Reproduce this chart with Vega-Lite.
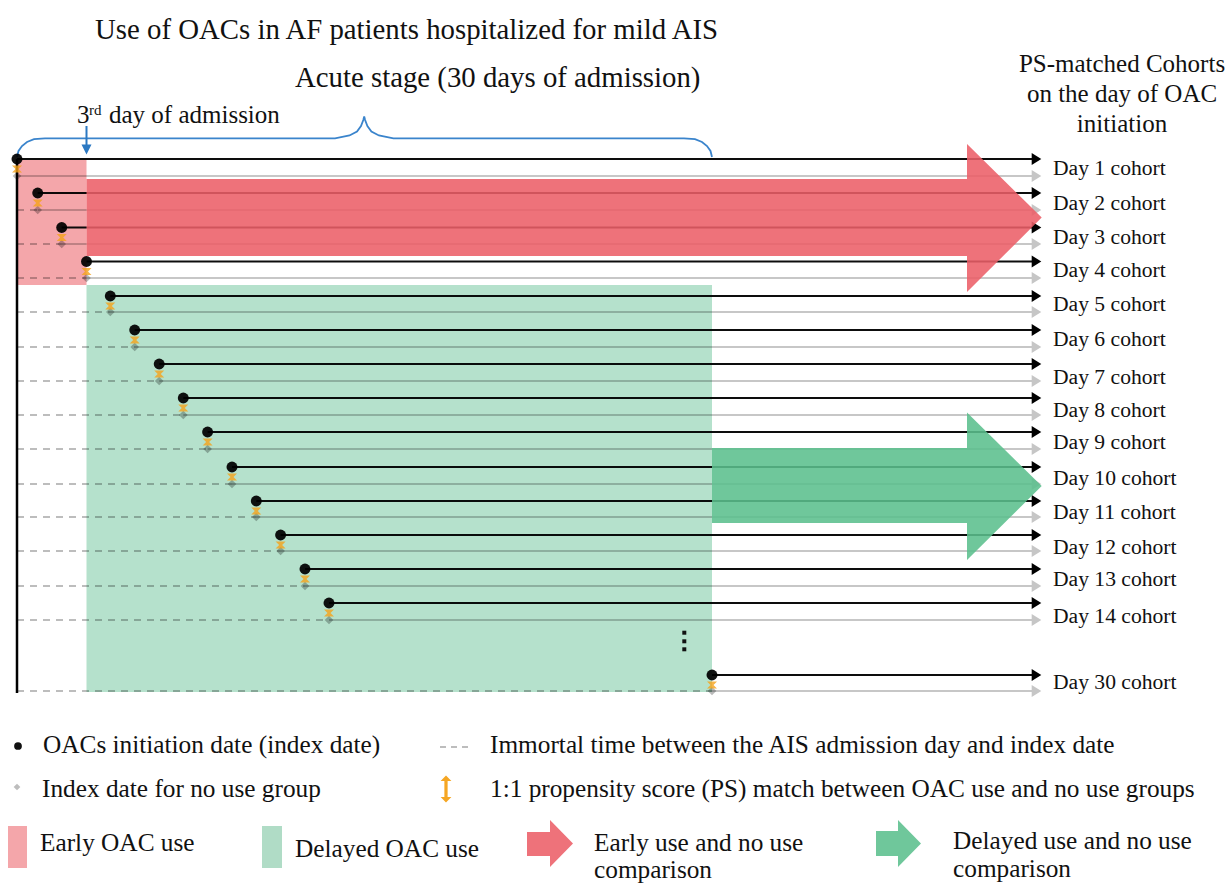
{
  "$schema": "https://vega.github.io/schema/vega-lite/v6.json",
  "width": 1229,
  "height": 883,
  "autosize": {"type": "none"},
  "padding": 0,
  "background": "white",
  "config": {"view": {"stroke": null}},
  "datasets": {
    "cohorts": [
      {"cohort": "Day 1 cohort", "origin": 17, "start": 17, "end": 1032, "head": 1036.5, "label_x": 1053, "use_y": 159, "nouse_y": 176, "label_y": 169},
      {"cohort": "Day 2 cohort", "origin": 17, "start": 37.7, "end": 1032, "head": 1036.5, "label_x": 1053, "use_y": 193, "nouse_y": 210, "label_y": 204},
      {"cohort": "Day 3 cohort", "origin": 17, "start": 61.7, "end": 1032, "head": 1036.5, "label_x": 1053, "use_y": 227.5, "nouse_y": 244, "label_y": 238},
      {"cohort": "Day 4 cohort", "origin": 17, "start": 86.5, "end": 1032, "head": 1036.5, "label_x": 1053, "use_y": 261.5, "nouse_y": 278, "label_y": 271},
      {"cohort": "Day 5 cohort", "origin": 17, "start": 110.3, "end": 1032, "head": 1036.5, "label_x": 1053, "use_y": 296, "nouse_y": 312, "label_y": 305},
      {"cohort": "Day 6 cohort", "origin": 17, "start": 134.7, "end": 1032, "head": 1036.5, "label_x": 1053, "use_y": 330, "nouse_y": 347, "label_y": 340},
      {"cohort": "Day 7 cohort", "origin": 17, "start": 159.2, "end": 1032, "head": 1036.5, "label_x": 1053, "use_y": 364, "nouse_y": 381, "label_y": 378},
      {"cohort": "Day 8 cohort", "origin": 17, "start": 183.3, "end": 1032, "head": 1036.5, "label_x": 1053, "use_y": 398, "nouse_y": 415, "label_y": 411},
      {"cohort": "Day 9 cohort", "origin": 17, "start": 207.6, "end": 1032, "head": 1036.5, "label_x": 1053, "use_y": 432, "nouse_y": 449, "label_y": 443},
      {"cohort": "Day 10 cohort", "origin": 17, "start": 232, "end": 1032, "head": 1036.5, "label_x": 1053, "use_y": 467, "nouse_y": 484, "label_y": 479},
      {"cohort": "Day 11 cohort", "origin": 17, "start": 256.3, "end": 1032, "head": 1036.5, "label_x": 1053, "use_y": 501, "nouse_y": 517, "label_y": 513},
      {"cohort": "Day 12 cohort", "origin": 17, "start": 280.6, "end": 1032, "head": 1036.5, "label_x": 1053, "use_y": 535, "nouse_y": 551, "label_y": 548},
      {"cohort": "Day 13 cohort", "origin": 17, "start": 305, "end": 1032, "head": 1036.5, "label_x": 1053, "use_y": 569, "nouse_y": 586, "label_y": 580},
      {"cohort": "Day 14 cohort", "origin": 17, "start": 329, "end": 1032, "head": 1036.5, "label_x": 1053, "use_y": 603, "nouse_y": 620, "label_y": 617},
      {"cohort": "Day 30 cohort", "origin": 17, "start": 712, "end": 1032, "head": 1036.5, "label_x": 1053, "use_y": 675, "nouse_y": 691, "label_y": 683}
    ],
    "brace": [
      {"x": 17, "y": 157}, {"x": 18.5, "y": 151}, {"x": 22, "y": 146}, {"x": 27, "y": 142},
      {"x": 34, "y": 139.2}, {"x": 45, "y": 138.3}, {"x": 335, "y": 138.3}, {"x": 349.5, "y": 135.5},
      {"x": 357, "y": 131.5}, {"x": 361, "y": 126}, {"x": 363.3, "y": 120}, {"x": 364.2, "y": 116.5},
      {"x": 365.1, "y": 120}, {"x": 367.4, "y": 126}, {"x": 371.4, "y": 131.5}, {"x": 378.9, "y": 135.5},
      {"x": 393.4, "y": 138.3}, {"x": 684, "y": 138.3}, {"x": 695, "y": 139.2}, {"x": 702, "y": 142},
      {"x": 707, "y": 146}, {"x": 710.5, "y": 151}, {"x": 712, "y": 157}
    ],
    "arrows": [
      {"arrow": "early", "x": 86.5, "y": 179, "y2": 256},
      {"arrow": "early", "x": 967, "y": 179, "y2": 256},
      {"arrow": "early", "x": 967.01, "y": 144, "y2": 292},
      {"arrow": "early", "x": 1041.7, "y": 217.5, "y2": 217.5},
      {"arrow": "delayed", "x": 712, "y": 448, "y2": 523},
      {"arrow": "delayed", "x": 967, "y": 448, "y2": 523},
      {"arrow": "delayed", "x": 967.01, "y": 412.5, "y2": 560},
      {"arrow": "delayed", "x": 1041.7, "y": 486, "y2": 486},
      {"arrow": "legend_early", "x": 527, "y": 832, "y2": 856},
      {"arrow": "legend_early", "x": 550, "y": 832, "y2": 856},
      {"arrow": "legend_early", "x": 550.01, "y": 820, "y2": 867},
      {"arrow": "legend_early", "x": 573, "y": 843.5, "y2": 843.5},
      {"arrow": "legend_delayed", "x": 876, "y": 831, "y2": 856},
      {"arrow": "legend_delayed", "x": 898, "y": 831, "y2": 856},
      {"arrow": "legend_delayed", "x": 898.01, "y": 820, "y2": 867},
      {"arrow": "legend_delayed", "x": 921, "y": 843.5, "y2": 843.5}
    ],
    "regions": [
      {"region": "early", "x": 17, "x2": 86.5, "y": 160, "y2": 285},
      {"region": "delayed", "x": 86.5, "x2": 712, "y": 285, "y2": 692},
      {"region": "legend_early", "x": 8, "x2": 27, "y": 826, "y2": 868},
      {"region": "legend_delayed", "x": 262, "x2": 282, "y": 826, "y2": 868}
    ],
    "texts": [
      {"kind": "title", "x": 95, "y": 30, "text": "Use of OACs in AF patients hospitalized for mild AIS"},
      {"kind": "title", "x": 295, "y": 78, "text": "Acute stage (30 days of admission)"},
      {"kind": "header", "x": 1122, "y": 64, "text": "PS-matched Cohorts"},
      {"kind": "header", "x": 1122, "y": 94, "text": "on the day of OAC"},
      {"kind": "header", "x": 1122, "y": 124, "text": "initiation"},
      {"kind": "note", "x": 77, "y": 115, "text": "3"},
      {"kind": "note", "x": 109, "y": 115, "text": "day of admission"},
      {"kind": "sup", "x": 89, "y": 110, "text": "rd"},
      {"kind": "legend", "x": 43, "y": 745, "text": "OACs initiation date (index date)"},
      {"kind": "legend", "x": 490, "y": 745, "text": "Immortal time between the AIS admission day and index date"},
      {"kind": "legend", "x": 42, "y": 789, "text": "Index date for no use group"},
      {"kind": "legend", "x": 490, "y": 789, "text": "1:1 propensity score (PS) match between OAC use and no use groups"},
      {"kind": "legend", "x": 40, "y": 843, "text": "Early OAC use"},
      {"kind": "legend", "x": 295, "y": 849, "text": "Delayed OAC use"},
      {"kind": "legend", "x": 594, "y": 843, "text": "Early use and no use"},
      {"kind": "legend", "x": 594, "y": 870, "text": "comparison"},
      {"kind": "legend", "x": 953, "y": 841, "text": "Delayed use and no use"},
      {"kind": "legend", "x": 953, "y": 869, "text": "comparison"}
    ],
    "ellipsis": [
      {"x": 684.3, "y": 632.7}, {"x": 684.3, "y": 641.3}, {"x": 684.3, "y": 649.3}
    ],
    "timeline": [
      {"x": 17, "y": 159, "y2": 693}
    ],
    "pointer": [
      {"x": 86.5, "y": 126, "y2": 146}
    ],
    "pointer_head": [
      {"x": 86.5, "y": 149.5}
    ],
    "legend_symbols": [
      {"symbol": "dot", "x": 18, "y": 746},
      {"symbol": "diamond", "x": 17, "y": 787},
      {"symbol": "match", "x": 446, "y": 789}
    ],
    "legend_dash": [
      {"x": 440, "x2": 472, "y": 747}
    ]
  },
  "layer": [
    {
      "data": {"name": "regions"},
      "transform": [{"filter": "datum.region === 'early'"}],
      "mark": {"type": "rect", "color": "#ec6b71", "opacity": 0.6},
      "encoding": {
        "x": {"field": "x", "type": "quantitative", "scale": {"domain": [0, 1229], "nice": false, "zero": false}, "axis": null},
        "x2": {"field": "x2"},
        "y": {"field": "y", "type": "quantitative", "scale": {"domain": [0, 883], "nice": false, "zero": false, "reverse": true}, "axis": null},
        "y2": {"field": "y2"}
      }
    },
    {
      "data": {"name": "regions"},
      "transform": [{"filter": "datum.region === 'delayed'"}],
      "mark": {"type": "rect", "color": "#6cc49a", "opacity": 0.5},
      "encoding": {
        "x": {"field": "x", "type": "quantitative", "scale": {"domain": [0, 1229], "nice": false, "zero": false}, "axis": null},
        "x2": {"field": "x2"},
        "y": {"field": "y", "type": "quantitative", "scale": {"domain": [0, 883], "nice": false, "zero": false, "reverse": true}, "axis": null},
        "y2": {"field": "y2"}
      }
    },
    {
      "data": {"name": "brace"},
      "mark": {"type": "line", "color": "#3a84cc", "strokeWidth": 1.8, "interpolate": "linear"},
      "encoding": {
        "x": {"field": "x", "type": "quantitative", "scale": {"domain": [0, 1229], "nice": false, "zero": false}, "axis": null},
        "y": {"field": "y", "type": "quantitative", "scale": {"domain": [0, 883], "nice": false, "zero": false, "reverse": true}, "axis": null}
      }
    },
    {
      "data": {"name": "pointer"},
      "mark": {"type": "rule", "color": "#2b78c2", "strokeWidth": 2},
      "encoding": {
        "x": {"field": "x", "type": "quantitative", "scale": {"domain": [0, 1229], "nice": false, "zero": false}, "axis": null},
        "y": {"field": "y", "type": "quantitative", "scale": {"domain": [0, 883], "nice": false, "zero": false, "reverse": true}, "axis": null},
        "y2": {"field": "y2"}
      }
    },
    {
      "data": {"name": "pointer_head"},
      "mark": {"type": "point", "shape": "M-1,-1L1,-1L0,1Z", "filled": true, "color": "#2b78c2", "size": 100, "opacity": 1},
      "encoding": {
        "x": {"field": "x", "type": "quantitative", "scale": {"domain": [0, 1229], "nice": false, "zero": false}, "axis": null},
        "y": {"field": "y", "type": "quantitative", "scale": {"domain": [0, 883], "nice": false, "zero": false, "reverse": true}, "axis": null}
      }
    },
    {
      "data": {"name": "timeline"},
      "mark": {"type": "rule", "color": "#000000", "strokeWidth": 2.5},
      "encoding": {
        "x": {"field": "x", "type": "quantitative", "scale": {"domain": [0, 1229], "nice": false, "zero": false}, "axis": null},
        "y": {"field": "y", "type": "quantitative", "scale": {"domain": [0, 883], "nice": false, "zero": false, "reverse": true}, "axis": null},
        "y2": {"field": "y2"}
      }
    },
    {
      "data": {"name": "cohorts"},
      "mark": {"type": "rule", "color": "#000000", "strokeOpacity": 0.26, "strokeWidth": 1.8, "strokeDash": [7, 6]},
      "encoding": {
        "x": {"field": "origin", "type": "quantitative", "scale": {"domain": [0, 1229], "nice": false, "zero": false}, "axis": null},
        "x2": {"field": "start"},
        "y": {"field": "nouse_y", "type": "quantitative", "scale": {"domain": [0, 883], "nice": false, "zero": false, "reverse": true}, "axis": null}
      }
    },
    {
      "data": {"name": "cohorts"},
      "mark": {"type": "rule", "color": "#000000", "strokeOpacity": 0.22, "strokeWidth": 2},
      "encoding": {
        "x": {"field": "start", "type": "quantitative", "scale": {"domain": [0, 1229], "nice": false, "zero": false}, "axis": null},
        "x2": {"field": "end"},
        "y": {"field": "nouse_y", "type": "quantitative", "scale": {"domain": [0, 883], "nice": false, "zero": false, "reverse": true}, "axis": null}
      }
    },
    {
      "data": {"name": "cohorts"},
      "mark": {"type": "rule", "color": "#000000", "strokeOpacity": 0.95, "strokeWidth": 2},
      "encoding": {
        "x": {"field": "start", "type": "quantitative", "scale": {"domain": [0, 1229], "nice": false, "zero": false}, "axis": null},
        "x2": {"field": "end"},
        "y": {"field": "use_y", "type": "quantitative", "scale": {"domain": [0, 883], "nice": false, "zero": false, "reverse": true}, "axis": null}
      }
    },
    {
      "data": {"name": "cohorts"},
      "mark": {"type": "point", "shape": "M-0.8,-1L0.8,0L-0.8,1Z", "filled": true, "color": "#000000", "size": 144, "opacity": 1},
      "encoding": {
        "x": {"field": "head", "type": "quantitative", "scale": {"domain": [0, 1229], "nice": false, "zero": false}, "axis": null},
        "y": {"field": "use_y", "type": "quantitative", "scale": {"domain": [0, 883], "nice": false, "zero": false, "reverse": true}, "axis": null}
      }
    },
    {
      "data": {"name": "cohorts"},
      "mark": {"type": "point", "shape": "M-0.8,-1L0.8,0L-0.8,1Z", "filled": true, "color": "#c6c6c6", "size": 144, "opacity": 1},
      "encoding": {
        "x": {"field": "head", "type": "quantitative", "scale": {"domain": [0, 1229], "nice": false, "zero": false}, "axis": null},
        "y": {"field": "nouse_y", "type": "quantitative", "scale": {"domain": [0, 883], "nice": false, "zero": false, "reverse": true}, "axis": null}
      }
    },
    {
      "data": {"name": "cohorts"},
      "mark": {"type": "point", "shape": "diamond", "filled": true, "color": "#000000", "size": 75, "opacity": 0.27},
      "encoding": {
        "x": {"field": "start", "type": "quantitative", "scale": {"domain": [0, 1229], "nice": false, "zero": false}, "axis": null},
        "y": {"field": "nouse_y", "type": "quantitative", "scale": {"domain": [0, 883], "nice": false, "zero": false, "reverse": true}, "axis": null}
      }
    },
    {
      "data": {"name": "cohorts"},
      "mark": {"type": "point", "shape": "M-1,-0.7L1,-0.7L0.3,0L1,0.7L-1,0.7L-0.3,0Z", "filled": true, "color": "#f5a31a", "size": 100, "opacity": 0.8, "yOffset": 10},
      "encoding": {
        "x": {"field": "start", "type": "quantitative", "scale": {"domain": [0, 1229], "nice": false, "zero": false}, "axis": null},
        "y": {"field": "use_y", "type": "quantitative", "scale": {"domain": [0, 883], "nice": false, "zero": false, "reverse": true}, "axis": null}
      }
    },
    {
      "data": {"name": "cohorts"},
      "mark": {"type": "circle", "color": "#000000", "size": 120, "opacity": 0.93},
      "encoding": {
        "x": {"field": "start", "type": "quantitative", "scale": {"domain": [0, 1229], "nice": false, "zero": false}, "axis": null},
        "y": {"field": "use_y", "type": "quantitative", "scale": {"domain": [0, 883], "nice": false, "zero": false, "reverse": true}, "axis": null}
      }
    },
    {
      "data": {"name": "ellipsis"},
      "mark": {"type": "square", "color": "#111111", "size": 16, "opacity": 1},
      "encoding": {
        "x": {"field": "x", "type": "quantitative", "scale": {"domain": [0, 1229], "nice": false, "zero": false}, "axis": null},
        "y": {"field": "y", "type": "quantitative", "scale": {"domain": [0, 883], "nice": false, "zero": false, "reverse": true}, "axis": null}
      }
    },
    {
      "data": {"name": "regions"},
      "transform": [{"filter": "datum.region === 'legend_early'"}],
      "mark": {"type": "rect", "color": "#f4a6aa", "opacity": 1},
      "encoding": {
        "x": {"field": "x", "type": "quantitative", "scale": {"domain": [0, 1229], "nice": false, "zero": false}, "axis": null},
        "x2": {"field": "x2"},
        "y": {"field": "y", "type": "quantitative", "scale": {"domain": [0, 883], "nice": false, "zero": false, "reverse": true}, "axis": null},
        "y2": {"field": "y2"}
      }
    },
    {
      "data": {"name": "regions"},
      "transform": [{"filter": "datum.region === 'legend_delayed'"}],
      "mark": {"type": "rect", "color": "#b0dcc6", "opacity": 1},
      "encoding": {
        "x": {"field": "x", "type": "quantitative", "scale": {"domain": [0, 1229], "nice": false, "zero": false}, "axis": null},
        "x2": {"field": "x2"},
        "y": {"field": "y", "type": "quantitative", "scale": {"domain": [0, 883], "nice": false, "zero": false, "reverse": true}, "axis": null},
        "y2": {"field": "y2"}
      }
    },
    {
      "data": {"name": "arrows"},
      "transform": [{"filter": "datum.arrow === 'early' || datum.arrow === 'legend_early'"}],
      "mark": {"type": "area", "color": "#ec5e68", "opacity": 0.88, "interpolate": "linear"},
      "encoding": {
        "x": {"field": "x", "type": "quantitative", "scale": {"domain": [0, 1229], "nice": false, "zero": false}, "axis": null},
        "y": {"field": "y", "type": "quantitative", "scale": {"domain": [0, 883], "nice": false, "zero": false, "reverse": true}, "axis": null},
        "y2": {"field": "y2"},
        "detail": {"field": "arrow", "type": "nominal"}
      }
    },
    {
      "data": {"name": "arrows"},
      "transform": [{"filter": "datum.arrow === 'delayed' || datum.arrow === 'legend_delayed'"}],
      "mark": {"type": "area", "color": "#5bbf8d", "opacity": 0.88, "interpolate": "linear"},
      "encoding": {
        "x": {"field": "x", "type": "quantitative", "scale": {"domain": [0, 1229], "nice": false, "zero": false}, "axis": null},
        "y": {"field": "y", "type": "quantitative", "scale": {"domain": [0, 883], "nice": false, "zero": false, "reverse": true}, "axis": null},
        "y2": {"field": "y2"},
        "detail": {"field": "arrow", "type": "nominal"}
      }
    },
    {
      "data": {"name": "legend_symbols"},
      "transform": [{"filter": "datum.symbol === 'dot'"}],
      "mark": {"type": "circle", "color": "#111111", "size": 60, "opacity": 1},
      "encoding": {
        "x": {"field": "x", "type": "quantitative", "scale": {"domain": [0, 1229], "nice": false, "zero": false}, "axis": null},
        "y": {"field": "y", "type": "quantitative", "scale": {"domain": [0, 883], "nice": false, "zero": false, "reverse": true}, "axis": null}
      }
    },
    {
      "data": {"name": "legend_symbols"},
      "transform": [{"filter": "datum.symbol === 'diamond'"}],
      "mark": {"type": "point", "shape": "diamond", "filled": true, "color": "#bdbdbd", "size": 45, "opacity": 1},
      "encoding": {
        "x": {"field": "x", "type": "quantitative", "scale": {"domain": [0, 1229], "nice": false, "zero": false}, "axis": null},
        "y": {"field": "y", "type": "quantitative", "scale": {"domain": [0, 883], "nice": false, "zero": false, "reverse": true}, "axis": null}
      }
    },
    {
      "data": {"name": "legend_symbols"},
      "transform": [{"filter": "datum.symbol === 'match'"}],
      "mark": {"type": "point", "shape": "M0,-1L0.4,-0.6L0.12,-0.6L0.12,0.6L0.4,0.6L0,1L-0.4,0.6L-0.12,0.6L-0.12,-0.6L-0.4,-0.6Z", "filled": true, "color": "#f5a623", "size": 729, "opacity": 1},
      "encoding": {
        "x": {"field": "x", "type": "quantitative", "scale": {"domain": [0, 1229], "nice": false, "zero": false}, "axis": null},
        "y": {"field": "y", "type": "quantitative", "scale": {"domain": [0, 883], "nice": false, "zero": false, "reverse": true}, "axis": null}
      }
    },
    {
      "data": {"name": "legend_dash"},
      "mark": {"type": "rule", "color": "#a8a8a8", "strokeWidth": 1.5, "strokeDash": [6, 5]},
      "encoding": {
        "x": {"field": "x", "type": "quantitative", "scale": {"domain": [0, 1229], "nice": false, "zero": false}, "axis": null},
        "x2": {"field": "x2"},
        "y": {"field": "y", "type": "quantitative", "scale": {"domain": [0, 883], "nice": false, "zero": false, "reverse": true}, "axis": null}
      }
    },
    {
      "data": {"name": "cohorts"},
      "mark": {"type": "text", "font": "Liberation Serif", "fontSize": 21.6, "align": "left", "baseline": "middle", "color": "#111111"},
      "encoding": {
        "x": {"field": "label_x", "type": "quantitative", "scale": {"domain": [0, 1229], "nice": false, "zero": false}, "axis": null},
        "y": {"field": "label_y", "type": "quantitative", "scale": {"domain": [0, 883], "nice": false, "zero": false, "reverse": true}, "axis": null},
        "text": {"field": "cohort", "type": "nominal"}
      }
    },
    {
      "data": {"name": "texts"},
      "transform": [{"filter": "datum.kind === 'title'"}],
      "mark": {"type": "text", "font": "Liberation Serif", "fontSize": 28.8, "align": "left", "baseline": "middle", "color": "#111111"},
      "encoding": {
        "x": {"field": "x", "type": "quantitative", "scale": {"domain": [0, 1229], "nice": false, "zero": false}, "axis": null},
        "y": {"field": "y", "type": "quantitative", "scale": {"domain": [0, 883], "nice": false, "zero": false, "reverse": true}, "axis": null},
        "text": {"field": "text", "type": "nominal"}
      }
    },
    {
      "data": {"name": "texts"},
      "transform": [{"filter": "datum.kind === 'header'"}],
      "mark": {"type": "text", "font": "Liberation Serif", "fontSize": 25, "align": "center", "baseline": "middle", "color": "#111111"},
      "encoding": {
        "x": {"field": "x", "type": "quantitative", "scale": {"domain": [0, 1229], "nice": false, "zero": false}, "axis": null},
        "y": {"field": "y", "type": "quantitative", "scale": {"domain": [0, 883], "nice": false, "zero": false, "reverse": true}, "axis": null},
        "text": {"field": "text", "type": "nominal"}
      }
    },
    {
      "data": {"name": "texts"},
      "transform": [{"filter": "datum.kind === 'note'"}],
      "mark": {"type": "text", "font": "Liberation Serif", "fontSize": 25, "align": "left", "baseline": "middle", "color": "#111111"},
      "encoding": {
        "x": {"field": "x", "type": "quantitative", "scale": {"domain": [0, 1229], "nice": false, "zero": false}, "axis": null},
        "y": {"field": "y", "type": "quantitative", "scale": {"domain": [0, 883], "nice": false, "zero": false, "reverse": true}, "axis": null},
        "text": {"field": "text", "type": "nominal"}
      }
    },
    {
      "data": {"name": "texts"},
      "transform": [{"filter": "datum.kind === 'sup'"}],
      "mark": {"type": "text", "font": "Liberation Serif", "fontSize": 15, "align": "left", "baseline": "middle", "color": "#111111"},
      "encoding": {
        "x": {"field": "x", "type": "quantitative", "scale": {"domain": [0, 1229], "nice": false, "zero": false}, "axis": null},
        "y": {"field": "y", "type": "quantitative", "scale": {"domain": [0, 883], "nice": false, "zero": false, "reverse": true}, "axis": null},
        "text": {"field": "text", "type": "nominal"}
      }
    },
    {
      "data": {"name": "texts"},
      "transform": [{"filter": "datum.kind === 'legend'"}],
      "mark": {"type": "text", "font": "Liberation Serif", "fontSize": 25.3, "align": "left", "baseline": "middle", "color": "#111111"},
      "encoding": {
        "x": {"field": "x", "type": "quantitative", "scale": {"domain": [0, 1229], "nice": false, "zero": false}, "axis": null},
        "y": {"field": "y", "type": "quantitative", "scale": {"domain": [0, 883], "nice": false, "zero": false, "reverse": true}, "axis": null},
        "text": {"field": "text", "type": "nominal"}
      }
    }
  ]
}
